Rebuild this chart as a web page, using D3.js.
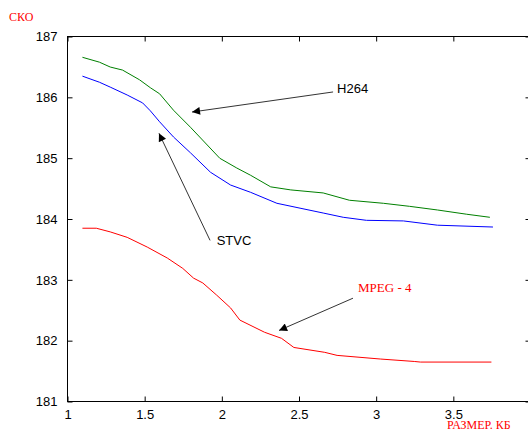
<!DOCTYPE html>
<html>
<head>
<meta charset="utf-8">
<script src="https://cdn.jsdelivr.net/npm/d3@7"></script>
<style>
  body { margin: 0; background: #fff; }
  svg { display: block; }
</style>
</head>
<body>
<div class="chart"></div>
<script>
// data
xH264 = [1.10, 1.21, 1.28, 1.36, 1.47, 1.54, 1.60, 1.69, 1.80, 1.99, 2.10, 2.19, 2.32, 2.45, 2.66, 2.83, 3.05, 3.22, 3.40, 3.59, 3.74]
yH264 = [186.65, 186.57, 186.49, 186.44, 186.28, 186.15, 186.05, 185.78, 185.50, 184.99, 184.83, 184.71, 184.52, 184.47, 184.42, 184.30, 184.25, 184.20, 184.14, 184.07, 184.02]

xSTVC = [1.10, 1.21, 1.28, 1.39, 1.49, 1.54, 1.60, 1.69, 1.80, 1.93, 2.06, 2.19, 2.36, 2.51, 2.66, 2.79, 2.94, 3.18, 3.40, 3.76]
ySTVC = [186.34, 186.24, 186.16, 186.03, 185.90, 185.77, 185.59, 185.34, 185.08, 184.76, 184.55, 184.43, 184.25, 184.17, 184.09, 184.02, 183.97, 183.96, 183.89, 183.86]

xMPEG = [1.10, 1.19, 1.28, 1.39, 1.52, 1.65, 1.75, 1.82, 1.88, 1.97, 2.06, 2.12, 2.28, 2.39, 2.47, 2.67, 2.75, 3.03, 3.25, 3.29, 3.75]
yMPEG = [183.84, 183.84, 183.78, 183.69, 183.53, 183.35, 183.18, 183.02, 182.94, 182.74, 182.53, 182.33, 182.13, 182.03, 181.88, 181.80, 181.75, 181.69, 181.65, 181.64, 181.64]

xTicks = [1, 1.5, 2, 2.5, 3, 3.5]
yTicks = [181, 182, 183, 184, 185, 186, 187]

// annotations: label, text pos, arrow tail, arrow tip (data units)
notes = [
  {label: "H264", tx: 2.75, ty: 186.13, x0: 2.724, y0: 186.08, x1: 1.81, y1: 185.75, color: "#000", serif: false},
  {label: "STVC", tx: 1.97, ty: 183.64, x0: 1.927, y0: 183.64, x1: 1.596, y1: 185.40, color: "#000", serif: false},
  {label: "MPEG - 4", tx: 2.886, ty: 182.87, x0: 2.853, y0: 182.69, x1: 2.374, y1: 182.16, color: "#ff0000", serif: true}
]

margin = ({top: 36, right: -2, bottom: 31, left: 67})
width = 528
height = 432

svg = d3.select('.chart').append('svg')
    .attr("width", width)
    .attr("height", height)

scaleX = d3.scaleLinear()
    .domain([1, 4])
    .range([margin.left, width - margin.right])

scaleY = d3.scaleLinear()
    .domain([181, 187])
    .range([height - margin.bottom, margin.top])

sans = "'Liberation Sans', Arial, sans-serif"
serif = "'Liberation Serif', 'Times New Roman', serif"

// frame
svg.append("rect")
    .attr("x", scaleX(1) + 0.5)
    .attr("y", scaleY(187) + 0.5)
    .attr("width", scaleX(4) - scaleX(1))
    .attr("height", scaleY(181) - scaleY(187))
    .attr("fill", "none")
    .attr("stroke", "#000")

function styleAxis(g) {
  g.select(".domain").remove()
  g.selectAll("text").style("font-family", sans).style("font-size", "13px").attr("fill", "#000")
}

// bottom / top / left / right axes, ticks pointing inwards
svg.append("g")
    .attr("transform", `translate(0.5, ${scaleY(181) + 0.5})`)
    .call(d3.axisBottom(scaleX).tickValues(xTicks).tickSizeInner(-5).tickSizeOuter(0).tickPadding(8).tickFormat(d3.format("")))
    .call(styleAxis)
svg.append("g")
    .attr("transform", `translate(0.5, ${scaleY(187) + 0.5})`)
    .call(d3.axisTop(scaleX).tickValues(xTicks).tickSizeInner(-5).tickSizeOuter(0).tickFormat(""))
    .call(styleAxis)
svg.append("g")
    .attr("transform", `translate(${scaleX(1) + 0.5}, 0.5)`)
    .call(d3.axisLeft(scaleY).tickValues(yTicks).tickSizeInner(-5).tickSizeOuter(0).tickPadding(10).tickFormat(d3.format("d")))
    .call(styleAxis)
svg.append("g")
    .attr("transform", `translate(${scaleX(4) + 0.5}, 0.5)`)
    .call(d3.axisRight(scaleY).tickValues(yTicks).tickSizeInner(-5).tickSizeOuter(0).tickFormat(""))
    .call(styleAxis)

// series
series = [
  {xs: xH264, ys: yH264, color: "#008000"},
  {xs: xSTVC, ys: ySTVC, color: "#0000ff"},
  {xs: xMPEG, ys: yMPEG, color: "#ff0000"}
]
line = d3.line().x(d => scaleX(d[0])).y(d => scaleY(d[1]))

svg.selectAll("path.series")
    .data(series)
    .join("path")
    .attr("class", "series")
    .attr("fill", "none")
    .attr("stroke", d => d.color)
    .attr("stroke-width", 1)
    .attr("d", d => line(d.xs.map((x, i) => [x, d.ys[i]])))

// arrowheads
svg.append("defs").append("marker")
    .attr("id", "head")
    .attr("viewBox", "0 0 10 10")
    .attr("refX", 10).attr("refY", 5)
    .attr("markerWidth", 12).attr("markerHeight", 8)
    .attr("markerUnits", "userSpaceOnUse")
    .attr("orient", "auto")
  .append("path")
    .attr("d", "M0,0L10,5L0,10z")
    .attr("fill", "#000")

svg.selectAll("line.note")
    .data(notes)
    .join("line")
    .attr("class", "note")
    .attr("x1", d => scaleX(d.x0)).attr("y1", d => scaleY(d.y0))
    .attr("x2", d => scaleX(d.x1)).attr("y2", d => scaleY(d.y1))
    .attr("stroke", "#333")
    .attr("stroke-width", 1)
    .attr("marker-end", "url(#head)")

svg.selectAll("text.note")
    .data(notes)
    .join("text")
    .attr("class", "note")
    .attr("x", d => scaleX(d.tx))
    .attr("y", d => scaleY(d.ty))
    .attr("dy", "0.35em")
    .attr("fill", d => d.color)
    .style("font-family", d => d.serif ? serif : sans)
    .style("font-size", "13px")
    .text(d => d.label)

// axis titles
svg.append("text")
    .attr("x", 9).attr("y", 21)
    .attr("fill", "#ff0000")
    .style("font-family", serif)
    .style("font-size", "12px")
    .text("СКО")

svg.append("text")
    .attr("x", 447).attr("y", 429)
    .attr("fill", "#ff0000")
    .style("font-family", serif)
    .style("font-size", "12px")
    .text("РАЗМЕР. КБ")
</script>
</body>
</html>
